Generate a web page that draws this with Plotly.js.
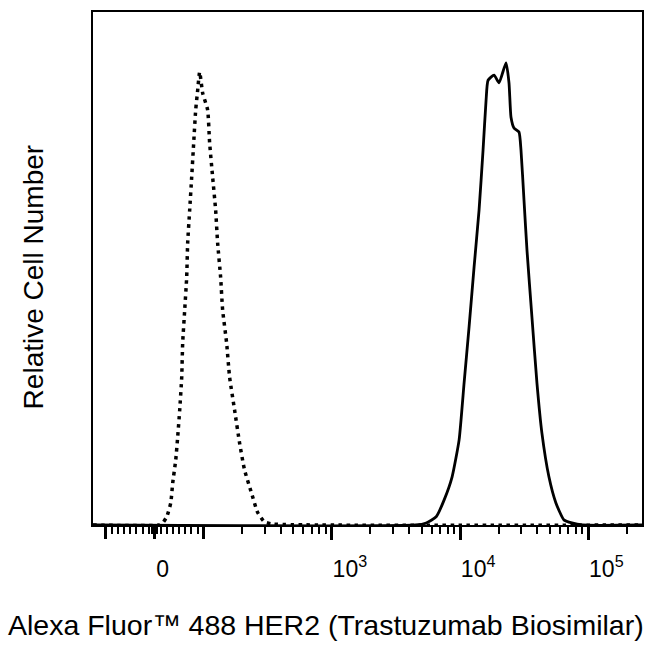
<!DOCTYPE html>
<html>
<head>
<meta charset="utf-8">
<script src="https://cdn.plot.ly/plotly-3.0.1.min.js"></script>
<style>html,body{margin:0;padding:0;background:#fff;}#chart{width:650px;height:650px;}</style>
</head>
<body>
<div id="chart"></div>
<script>
// Isotype / unstained control histogram (dotted): fluorescence intensity vs relative count
const controlIntensity = [-126, 10, 16.3, 24.5, 32.7, 36.7, 42.9, 46.9, 51, 55.1, 57.1, 61.2, 65.3, 67.3, 71.4, 75.5, 79.6, 83.7, 87.8, 91.8, 98, 107.4, 111.3, 117.5, 124, 128.5, 135.6, 140.6, 151, 159.4, 174.3, 190.6, 208.5, 236.4, 263.2, 298.4, 344.4, 262144];
const controlCount = [0, 0, 0.4, 1.6, 4.3, 8.2, 12.7, 17.2, 22.4, 28.8, 35.5, 41.9, 48.3, 55.0, 61.4, 67.8, 74.5, 80.9, 84.8, 88.3, 84.2, 80.9, 74.5, 67.8, 61.4, 55.0, 48.3, 41.9, 35.5, 28.8, 22.4, 16.0, 10.7, 6.2, 2.5, 0.6, 0.2, 0];

// HER2 stained histogram (solid)
const her2Intensity = [-126, 4500, 5437, 6506, 7509, 8663, 9822, 10743, 11749, 12853, 14055, 15101, 15940, 16519, 18396, 20115, 22798, 24060, 24940, 26310, 28785, 29840, 31480, 33221, 36330, 39730, 43455, 49275, 55860, 64480, 74380, 90000, 262144];
const her2Count = [0, 0, 0.4, 1.6, 4.9, 9.4, 16.6, 27.7, 38.6, 50.3, 61.4, 73.1, 82.8, 86.7, 87.7, 86.2, 90.1, 86.2, 79.5, 77.4, 76.6, 73.1, 63.4, 53.6, 40.5, 27.7, 17.9, 9.4, 4.3, 1.0, 0.4, 0, 0];

// Axis ticks (fluorescence values)
const decadeTickValues = [1000, 10000, 100000];
const decadeTickText = ['10<sup>3</sup>', '10<sup>4</sup>', '10<sup>5</sup>'];
const zeroTickValues = [0];
const zeroTickText = ['0'];
const unlabeledMajorValues = [-100, 100];
const linearMinorSteps = [5, 12.5, 25, 37.5, 50, 62.5, 75, 87.5];
const logDecades = [100, 1000, 10000];
const axisLimits = [-126, 262144];

const xTitle = 'Alexa Fluor™ 488 HER2 (Trastuzumab Biosimilar)';
const yTitle = 'Relative Cell Number';

// Biexponential-like display transform: linear within ±100, logarithmic beyond
const K = 128.5 / 49;
function biex(v) {
  const a = Math.abs(v);
  const d = a <= 100 ? a / 100 : 1 + Math.log10(a / 100) * K;
  return Math.sign(v) * d;
}

const minorVals = [];
linearMinorSteps.forEach(s => { minorVals.push(s, -s); });
logDecades.forEach(dec => { for (let m = 2; m <= 9; m++) minorVals.push(m * dec); });
minorVals.push(200000);

const xRange = axisLimits.map(biex);
const carrier = (xa) => ({
  x: xRange, y: [0, 0], xaxis: xa, yaxis: 'y', type: 'scatter', mode: 'lines',
  line: {width: 0, color: 'rgba(0,0,0,0)'}, showlegend: false, hoverinfo: 'skip'
});

const traces = [
  {
    x: controlIntensity.map(biex), y: controlCount, type: 'scatter', mode: 'lines',
    name: 'Control', line: {color: '#000', width: 3.5, dash: '3.5px,4.5px', shape: 'spline', smoothing: 0.5}
  },
  {
    x: her2Intensity.map(biex), y: her2Count, type: 'scatter', mode: 'lines',
    name: 'HER2', line: {color: '#000', width: 2.8, shape: 'spline', smoothing: 0.5}
  },
  carrier('x2'),
  carrier('x3')
];

const fontFam = 'Liberation Sans, Arial, Helvetica, sans-serif';
const tickFont = {size: 23, family: fontFam, color: '#000'};
const layout = {
  width: 650, height: 650,
  margin: {l: 93, r: 8, t: 12, b: 125},
  paper_bgcolor: '#fff', plot_bgcolor: '#fff',
  showlegend: false,
  font: {family: fontFam, color: '#000'},
  xaxis: {
    range: xRange,
    showgrid: false, zeroline: false,
    showline: true, mirror: true, linecolor: '#000', linewidth: 2,
    tickmode: 'array',
    tickvals: decadeTickValues.map(biex),
    ticktext: decadeTickText,
    ticks: 'outside', ticklen: 13, tickwidth: 3, tickcolor: '#000',
    ticklabelshift: 18, ticklabelstandoff: 9,
    tickfont: tickFont,
    minor: {tickmode: 'array', tickvals: minorVals.map(biex), ticks: 'outside', ticklen: 7, tickwidth: 2, tickcolor: '#000', showgrid: false}
  },
  xaxis2: {
    overlaying: 'x', side: 'bottom', anchor: 'y',
    range: xRange,
    showgrid: false, zeroline: false, showline: false,
    tickmode: 'array', tickvals: zeroTickValues.map(biex), ticktext: zeroTickText,
    ticks: 'outside', ticklen: 13, tickwidth: 3, tickcolor: '#000',
    ticklabelshift: 8, ticklabelstandoff: 10,
    tickfont: tickFont
  },
  xaxis3: {
    overlaying: 'x', side: 'bottom', anchor: 'y',
    range: xRange,
    showgrid: false, zeroline: false, showline: false,
    tickmode: 'array', tickvals: unlabeledMajorValues.map(biex),
    ticks: 'outside', ticklen: 13, tickwidth: 3, tickcolor: '#000',
    showticklabels: false
  },
  yaxis: {
    range: [0, 100],
    showgrid: false, zeroline: false,
    showline: true, mirror: true, linecolor: '#000', linewidth: 2,
    ticks: '', showticklabels: false
  },
  annotations: [
    {text: xTitle, xref: 'paper', yref: 'paper', x: 0.424, y: -0.195, xanchor: 'center', yanchor: 'middle', showarrow: false, font: {size: 28.5, family: fontFam, color: '#000'}},
    {text: yTitle, xref: 'paper', yref: 'paper', x: -0.109, y: 0.483, xanchor: 'center', yanchor: 'middle', textangle: -90, showarrow: false, font: {size: 28, family: fontFam, color: '#000'}}
  ]
};

Plotly.newPlot('chart', traces, layout, {staticPlot: true, displayModeBar: false});
</script>
</body>
</html>
